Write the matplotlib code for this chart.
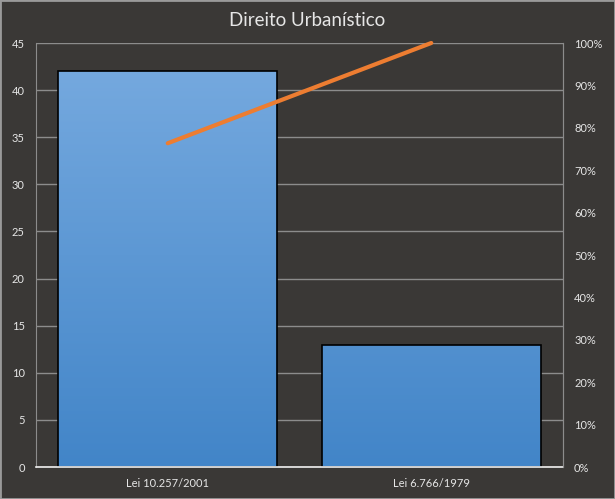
import matplotlib
matplotlib.use("Agg")
import matplotlib.pyplot as plt
import numpy as np
from matplotlib.colors import LinearSegmentedColormap
from matplotlib.ticker import MultipleLocator, FuncFormatter

categories = ["Lei 10.257/2001", "Lei 6.766/1979"]
counts = [42, 13]
cumulative_pct = [76.36, 100.0]

bg = "#3a3836"
fg = "#e6e6e6"
grid_c = "#8c8c8c"

fig = plt.figure(figsize=(6.15, 4.99), dpi=100, facecolor=bg)
ax = fig.add_axes([36/615, 1-467/499, (563-36)/615, (467-43)/499])
ax.set_facecolor(bg)

x = np.arange(len(categories))
bars = ax.bar(x, counts, width=0.83, color="none", edgecolor="black", linewidth=1.2, zorder=3)
ax.set_xlim(-0.5, 1.5)
ax.set_ylim(0, 45)

cmap = LinearSegmentedColormap.from_list("g", ["#4285c8", "#78abe0"])
grad = np.linspace(0, 1, 256).reshape(-1, 1)
for b in bars:
    im = ax.imshow(grad, cmap=cmap, origin="lower", aspect="auto",
                   extent=[-0.5, 1.5, 0, 45], zorder=2)
    im.set_clip_path(b)
ax.set_xlim(-0.5, 1.5)
ax.set_ylim(0, 45)

ax.yaxis.set_major_locator(MultipleLocator(5))
ax.grid(axis="y", color=grid_c, linewidth=1, zorder=1)
ax.set_axisbelow(True)
for s in ["top"]:
    ax.spines[s].set_visible(False)
ax.spines["left"].set_color(grid_c)
ax.spines["right"].set_color(grid_c)
ax.spines["bottom"].set_color("#f0f0f0")
ax.spines["bottom"].set_zorder(4)
ax.spines["bottom"].set_linewidth(1.2)
ax.tick_params(axis="y", length=0, colors=fg, labelsize=8, pad=8)
ax.tick_params(axis="x", length=0, colors=fg, labelsize=8, pad=8)
ax.set_xticks(x)
ax.set_xticklabels(categories, fontfamily="Lato")
for t in ax.get_yticklabels():
    t.set_fontfamily("Lato")

ax2 = ax.twinx()
ax2.plot(x, cumulative_pct, color="#ED7D31", linewidth=3, solid_capstyle="round",
         zorder=5, clip_on=False)
ax2.set_ylim(0, 100)
ax2.yaxis.set_major_locator(MultipleLocator(10))
ax2.yaxis.set_major_formatter(FuncFormatter(lambda v, p: f"{int(v)}%"))
ax2.tick_params(axis="y", length=0, colors=fg, labelsize=8, pad=8)
for t in ax2.get_yticklabels():
    t.set_fontfamily("Lato")
for s in ["top", "left", "bottom"]:
    ax2.spines[s].set_visible(False)
ax2.spines["right"].set_color(grid_c)

fig.text(0.5, 1-20/499, "Direito Urbanístico", ha="center", va="center",
         color=fg, fontsize=13.5, fontfamily="Lato")

border = plt.Rectangle((0, 0), 1, 1, transform=fig.transFigure, fill=False,
                       edgecolor="#9a9a9a", linewidth=2)
fig.patches.append(border)

fig.savefig("out.png", dpi=100, facecolor=bg)
